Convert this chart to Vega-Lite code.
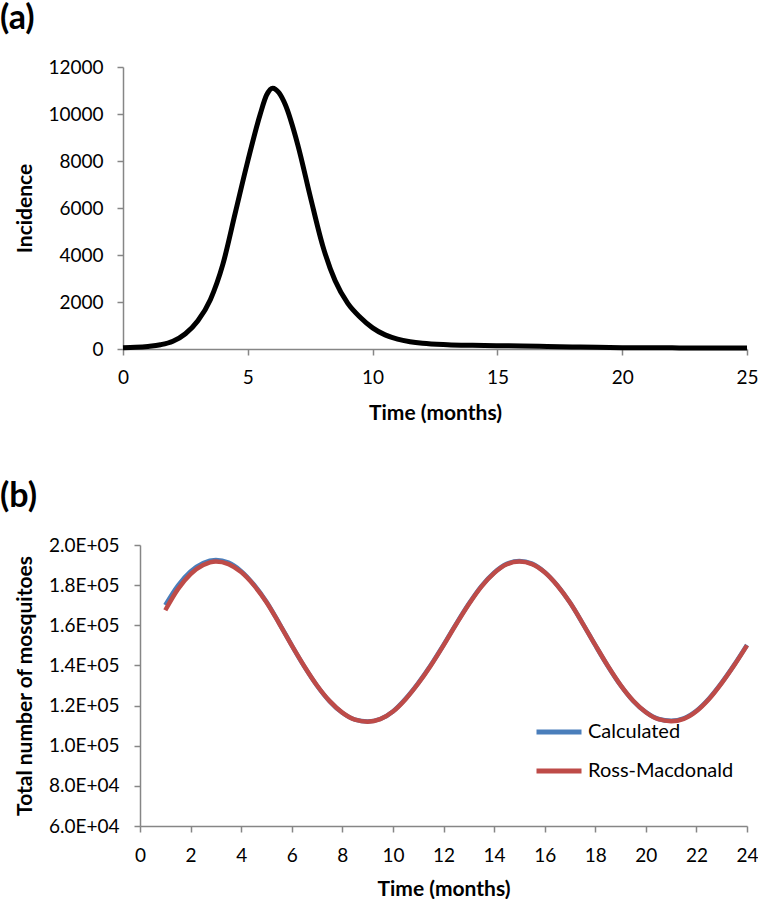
{
  "$schema": "https://vega.github.io/schema/vega-lite/v6.json",
  "background": "white",
  "padding": {"left": 0, "top": 2, "right": 0, "bottom": 0},
  "spacing": 57,
  "datasets": {
    "incidence": [
      {"t": 0, "incidence": 50}, {"t": 0.5, "incidence": 70}, {"t": 1, "incidence": 110}, {"t": 1.5, "incidence": 180},
      {"t": 2, "incidence": 330}, {"t": 2.5, "incidence": 650}, {"t": 3, "incidence": 1200}, {"t": 3.5, "incidence": 2100},
      {"t": 4, "incidence": 3600}, {"t": 4.5, "incidence": 5800}, {"t": 5, "incidence": 8000}, {"t": 5.5, "incidence": 10000},
      {"t": 5.75, "incidence": 10800}, {"t": 6, "incidence": 11100}, {"t": 6.25, "incidence": 10900}, {"t": 6.5, "incidence": 10400},
      {"t": 7, "incidence": 8700}, {"t": 7.5, "incidence": 6500}, {"t": 8, "incidence": 4400}, {"t": 8.5, "incidence": 2900},
      {"t": 9, "incidence": 1950}, {"t": 9.5, "incidence": 1350}, {"t": 10, "incidence": 900}, {"t": 10.5, "incidence": 600},
      {"t": 11, "incidence": 420}, {"t": 11.5, "incidence": 310}, {"t": 12, "incidence": 240}, {"t": 13, "incidence": 180},
      {"t": 14, "incidence": 155}, {"t": 15, "incidence": 140}, {"t": 16, "incidence": 130}, {"t": 17, "incidence": 110},
      {"t": 18, "incidence": 90}, {"t": 19, "incidence": 70}, {"t": 20, "incidence": 55}, {"t": 21, "incidence": 50},
      {"t": 22, "incidence": 48}, {"t": 23, "incidence": 46}, {"t": 24, "incidence": 45}, {"t": 25, "incidence": 45}
    ],
    "mosquitoes": [
      {"t": 1, "series": "Calculated", "n": 170000}, {"t": 1.5, "series": "Calculated", "n": 179800}, {"t": 2, "series": "Calculated", "n": 186800},
      {"t": 2.5, "series": "Calculated", "n": 191000}, {"t": 3, "series": "Calculated", "n": 192500}, {"t": 3.5, "series": "Calculated", "n": 191200},
      {"t": 4, "series": "Calculated", "n": 187000}, {"t": 4.5, "series": "Calculated", "n": 180300}, {"t": 5, "series": "Calculated", "n": 171700},
      {"t": 5.5, "series": "Calculated", "n": 161100}, {"t": 6, "series": "Calculated", "n": 150000}, {"t": 6.5, "series": "Calculated", "n": 139400},
      {"t": 7, "series": "Calculated", "n": 129900}, {"t": 7.5, "series": "Calculated", "n": 122100}, {"t": 8, "series": "Calculated", "n": 116400},
      {"t": 8.5, "series": "Calculated", "n": 113000}, {"t": 9, "series": "Calculated", "n": 112100}, {"t": 9.5, "series": "Calculated", "n": 113300},
      {"t": 10, "series": "Calculated", "n": 117100}, {"t": 10.5, "series": "Calculated", "n": 123400}, {"t": 11, "series": "Calculated", "n": 131200},
      {"t": 11.5, "series": "Calculated", "n": 140200}, {"t": 12, "series": "Calculated", "n": 150200}, {"t": 12.5, "series": "Calculated", "n": 160700},
      {"t": 13, "series": "Calculated", "n": 170700}, {"t": 13.5, "series": "Calculated", "n": 179500}, {"t": 14, "series": "Calculated", "n": 186200},
      {"t": 14.5, "series": "Calculated", "n": 190600}, {"t": 15, "series": "Calculated", "n": 192000}, {"t": 15.5, "series": "Calculated", "n": 190700},
      {"t": 16, "series": "Calculated", "n": 186500}, {"t": 16.5, "series": "Calculated", "n": 179900}, {"t": 17, "series": "Calculated", "n": 171300},
      {"t": 17.5, "series": "Calculated", "n": 161000}, {"t": 18, "series": "Calculated", "n": 150100}, {"t": 18.5, "series": "Calculated", "n": 139600},
      {"t": 19, "series": "Calculated", "n": 130100}, {"t": 19.5, "series": "Calculated", "n": 122300}, {"t": 20, "series": "Calculated", "n": 116700},
      {"t": 20.5, "series": "Calculated", "n": 113300}, {"t": 21, "series": "Calculated", "n": 112400}, {"t": 21.5, "series": "Calculated", "n": 113600},
      {"t": 22, "series": "Calculated", "n": 117400}, {"t": 22.5, "series": "Calculated", "n": 123500}, {"t": 23, "series": "Calculated", "n": 131400},
      {"t": 23.5, "series": "Calculated", "n": 140400}, {"t": 24, "series": "Calculated", "n": 150200},
      {"t": 1, "series": "Ross-Macdonald", "n": 167500}, {"t": 1.5, "series": "Ross-Macdonald", "n": 178000}, {"t": 2, "series": "Ross-Macdonald", "n": 185500},
      {"t": 2.5, "series": "Ross-Macdonald", "n": 190000}, {"t": 3, "series": "Ross-Macdonald", "n": 191800}, {"t": 3.5, "series": "Ross-Macdonald", "n": 190500},
      {"t": 4, "series": "Ross-Macdonald", "n": 186500}, {"t": 4.5, "series": "Ross-Macdonald", "n": 180000}, {"t": 5, "series": "Ross-Macdonald", "n": 171500},
      {"t": 5.5, "series": "Ross-Macdonald", "n": 161000}, {"t": 6, "series": "Ross-Macdonald", "n": 150000}, {"t": 6.5, "series": "Ross-Macdonald", "n": 139500},
      {"t": 7, "series": "Ross-Macdonald", "n": 130000}, {"t": 7.5, "series": "Ross-Macdonald", "n": 122200}, {"t": 8, "series": "Ross-Macdonald", "n": 116500},
      {"t": 8.5, "series": "Ross-Macdonald", "n": 113000}, {"t": 9, "series": "Ross-Macdonald", "n": 112000}, {"t": 9.5, "series": "Ross-Macdonald", "n": 113200},
      {"t": 10, "series": "Ross-Macdonald", "n": 117000}, {"t": 10.5, "series": "Ross-Macdonald", "n": 123200}, {"t": 11, "series": "Ross-Macdonald", "n": 131000},
      {"t": 11.5, "series": "Ross-Macdonald", "n": 140000}, {"t": 12, "series": "Ross-Macdonald", "n": 150000}, {"t": 12.5, "series": "Ross-Macdonald", "n": 160500},
      {"t": 13, "series": "Ross-Macdonald", "n": 170500}, {"t": 13.5, "series": "Ross-Macdonald", "n": 179300}, {"t": 14, "series": "Ross-Macdonald", "n": 186000},
      {"t": 14.5, "series": "Ross-Macdonald", "n": 190400}, {"t": 15, "series": "Ross-Macdonald", "n": 191800}, {"t": 15.5, "series": "Ross-Macdonald", "n": 190500},
      {"t": 16, "series": "Ross-Macdonald", "n": 186400}, {"t": 16.5, "series": "Ross-Macdonald", "n": 179800}, {"t": 17, "series": "Ross-Macdonald", "n": 171300},
      {"t": 17.5, "series": "Ross-Macdonald", "n": 161000}, {"t": 18, "series": "Ross-Macdonald", "n": 150200}, {"t": 18.5, "series": "Ross-Macdonald", "n": 139700},
      {"t": 19, "series": "Ross-Macdonald", "n": 130200}, {"t": 19.5, "series": "Ross-Macdonald", "n": 122400}, {"t": 20, "series": "Ross-Macdonald", "n": 116700},
      {"t": 20.5, "series": "Ross-Macdonald", "n": 113200}, {"t": 21, "series": "Ross-Macdonald", "n": 112200}, {"t": 21.5, "series": "Ross-Macdonald", "n": 113400},
      {"t": 22, "series": "Ross-Macdonald", "n": 117200}, {"t": 22.5, "series": "Ross-Macdonald", "n": 123300}, {"t": 23, "series": "Ross-Macdonald", "n": 131200},
      {"t": 23.5, "series": "Ross-Macdonald", "n": 140200}, {"t": 24, "series": "Ross-Macdonald", "n": 150000}
    ]
  },
  "vconcat": [
    {
      "title": {"text": "(a)", "anchor": "start", "frame": "bounds", "dx": -14, "offset": 22, "font": "Lato", "fontSize": 34, "fontWeight": "bold", "color": "black"},
      "width": 607,
      "height": 282,
      "data": {"name": "incidence"},
      "mark": {"type": "line", "color": "black", "strokeWidth": 5, "interpolate": "monotone", "clip": false},
      "encoding": {
        "x": {"field": "t", "type": "quantitative", "scale": {"domain": [0, 25], "nice": false, "range": [-17, 607]},
              "axis": {"values": [0, 5, 10, 15, 20, 25], "title": "Time (months)", "labelPadding": 13, "titlePadding": 15, "titleX": 295}},
        "y": {"field": "incidence", "type": "quantitative", "scale": {"domain": [0, 12000], "nice": false},
              "axis": {"values": [0, 2000, 4000, 6000, 8000, 10000, 12000], "format": "d", "title": "Incidence", "labelPadding": 14, "offset": 17, "titleX": -88}}
      }
    },
    {
      "title": {"text": "(b)", "anchor": "start", "frame": "bounds", "dx": -14, "offset": 22, "font": "Lato", "fontSize": 34, "fontWeight": "bold", "color": "black"},
      "width": 607,
      "height": 281,
      "data": {"name": "mosquitoes"},
      "mark": {"type": "line", "strokeWidth": 4.5, "interpolate": "monotone"},
      "encoding": {
        "x": {"field": "t", "type": "quantitative", "scale": {"domain": [0, 24], "nice": false},
              "axis": {"values": [0, 2, 4, 6, 8, 10, 12, 14, 16, 18, 20, 22, 24], "title": "Time (months)", "labelPadding": 14, "titlePadding": 13}},
        "y": {"field": "n", "type": "quantitative", "scale": {"domain": [60000, 200000], "nice": false},
              "axis": {"values": [60000, 80000, 100000, 120000, 140000, 160000, 180000, 200000], "title": "Total number of mosquitoes",
                       "labelExpr": "datum.value < 100000 ? format(datum.value / 10000, '.1f') + 'E+04' : format(datum.value / 100000, '.1f') + 'E+05'",
                       "labelPadding": 15, "titleX": -105}},
        "color": {"field": "series", "type": "nominal",
                  "scale": {"domain": ["Calculated", "Ross-Macdonald"], "range": ["#4A7EBB", "#BE4B48"]},
                  "legend": {"orient": "none", "legendX": 394, "legendY": 640, "title": null, "symbolType": "stroke",
                             "symbolStrokeWidth": 5, "symbolSize": 2025, "labelFont": "Lato", "labelFontSize": 20,
                             "labelColor": "black", "labelOffset": 4, "rowPadding": 4}}
      }
    }
  ],
  "config": {
    "view": {"stroke": null},
    "axis": {"labelFont": "Lato", "labelFontSize": 19, "labelColor": "black", "titleFont": "Lato", "titleFontSize": 21,
             "titleFontWeight": "bold", "titleColor": "black", "domainColor": "#868686", "tickColor": "#868686",
             "domainWidth": 1.5, "tickWidth": 1.5, "tickSize": 6, "grid": false, "labelFlush": false, "labelOverlap": false}
  }
}
